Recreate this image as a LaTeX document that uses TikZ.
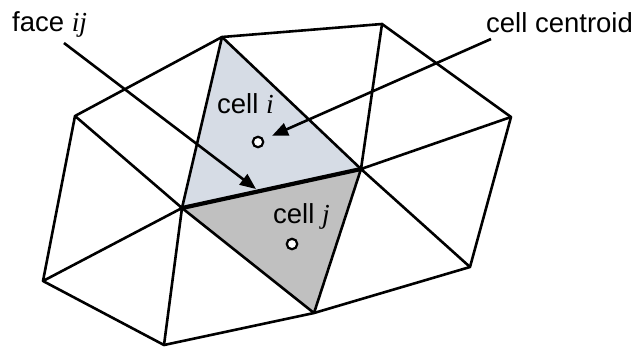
\documentclass[tikz,border=0pt]{standalone}
\usepackage{fontspec}
\setmainfont{Liberation Sans}
\newfontfamily\varfont{Liberation Serif}
\newcommand{\var}[1]{{\varfont\itshape #1}}
\usetikzlibrary{arrows.meta}
\definecolor{celliblue}{HTML}{D6DCE5}
\definecolor{celljgray}{HTML}{C0C0C0}
\tikzset{
  edge/.style={line width=2.6pt, line join=round, line cap=round},
  faceedge/.style={line width=4.2pt, line cap=round},
  centroid/.style={circle, draw, fill=white, line width=2.2pt, minimum size=10.5pt, inner sep=0pt},
  pointer/.style={line width=2.6pt, -{Triangle[length=16pt,width=13pt]}},
  lbl/.style={font=\fontsize{27.5pt}{30pt}\selectfont, inner sep=0pt, anchor=base west},
}
\begin{document}
\begin{tikzpicture}[x=1pt, y=-1pt]
  \useasboundingbox (0,0) rectangle (642,349);
  % mesh vertices
  \coordinate (A) at (222,37);
  \coordinate (E) at (382,24);
  \coordinate (F) at (511,117);
  \coordinate (G) at (470,267);
  \coordinate (D) at (314,313);
  \coordinate (H) at (164,345);
  \coordinate (M) at (43,281);
  \coordinate (L) at (75,116);
  \coordinate (B) at (361,169);
  \coordinate (C) at (182,208);
  % the two cells sharing the face
  \fill[celliblue] (A) -- (B) -- (C) -- cycle;
  \fill[celljgray] (C) -- (B) -- (D) -- cycle;
  % outer boundary
  \draw[edge] (A) -- (E) -- (F) -- (G) -- (D) -- (H) -- (M) -- (L) -- cycle;
  % interior edges
  \draw[edge] (A) -- (C) (A) -- (B) (C) -- (D) (B) -- (D)
              (L) -- (C) (M) -- (C) (H) -- (C)
              (E) -- (B) (F) -- (B) (G) -- (B);
  % shared face
  \draw[faceedge] (C) -- (B);
  % centroids
  \node[centroid] (ci) at (258,142) {};
  \node[centroid] (cj) at (292,244) {};
  % labels
  \node[lbl] (lface) at (12,31) {face \var{ij}};
  \node[lbl] (lcent) at (486,32) {cell centroid};
  \node[lbl] (lci) at (217,113) {cell \var{i}};
  \node[lbl] (lcj) at (273,223) {cell \var{j}};
  % pointers
  \coordinate (fs) at (64,43);
  \coordinate (fe) at (256,189);
  \coordinate (cs) at (491,39);
  \draw[pointer] (fs) -- (fe);
  \draw[pointer, shorten >=9pt] (cs) -- (ci);
\end{tikzpicture}
\end{document}
